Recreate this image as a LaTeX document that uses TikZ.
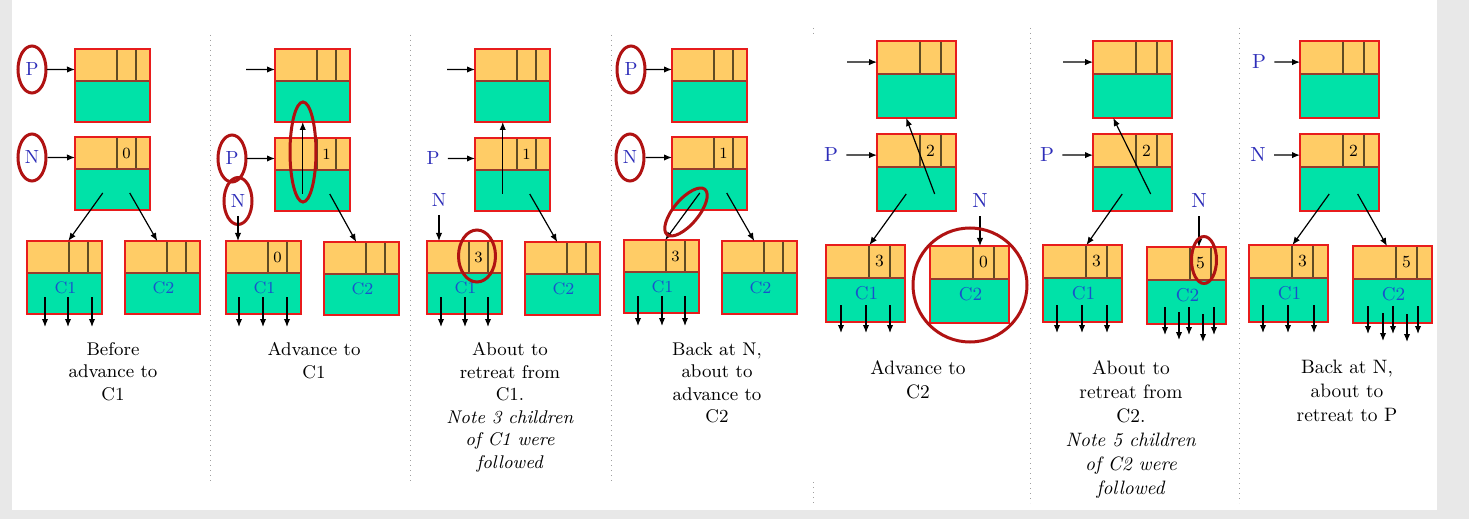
\documentclass[tikz,border=0pt]{standalone}
\usetikzlibrary{arrows.meta,shapes.geometric}

\definecolor{recorange}{RGB}{255,204,102}
\definecolor{recgreen}{RGB}{0,226,168}
\definecolor{recred}{RGB}{232,28,28}
\definecolor{partdark}{RGB}{150,60,45}
\definecolor{celldark}{RGB}{95,75,35}
\definecolor{ringred}{RGB}{176,18,18}
\definecolor{pblue}{RGB}{45,45,185}
\definecolor{cblue}{RGB}{25,80,205}
\definecolor{sepgray}{RGB}{160,160,160}
\definecolor{bggray}{RGB}{232,232,232}

\begin{document}
\begin{tikzpicture}[%
    x=0.5pt, y=-0.5pt,          % one unit is one pixel of the page, y runs down
    >={Latex[length=4pt,width=3.2pt]},
    ]
% -------------------------------------------------
% Record boxes and the other looks
\tikzset{
  rec w/.store in=\recW, rec t/.store in=\recT, rec h/.store in=\recH,
  rec a/.store in=\recA, rec b/.store in=\recB,
  rec w=75, rec t=32, rec h=73, rec a=42, rec b=61,
  cell/.style={draw=celldark, line width=0.6pt},
  rim/.style={draw=recred, line width=0.9pt},
  cnt/.style={font=\fontsize{7.8}{9}\selectfont, inner sep=0pt},
  nm/.style={font=\fontsize{8.4}{10}\selectfont, text=cblue, inner sep=0pt},
  ptr/.style={font=\fontsize{9.5}{11}\selectfont, text=pblue, inner sep=4pt},
  ring/.style={draw=ringred, line width=1.5pt, ellipse, inner sep=0pt,
    minimum width=14pt, minimum height=23.5pt},
  capt/.style={anchor=north, align=center, inner sep=0pt,
    font=\fontsize{9.2}{11.25}\selectfont},
  norm/.style={->, draw, line width=0.6pt},
  divider/.style={draw=sepgray, line width=0.5pt, dotted},
  rightpanel/.style={rec w=79, rec t=33, rec h=77, rec a=43, rec b=64,
    cnt/.append style={font=\fontsize{8.5}{10}\selectfont},
    nm/.append style={font=\fontsize{9.3}{11}\selectfont},
    ptr/.append style={font=\fontsize{10.2}{12}\selectfont},
    capt/.append style={font=\fontsize{9.7}{12}\selectfont}},
  pics/rec/.style 2 args={code={
    \fill[recorange] (0,0) rectangle (\recW,\recT);
    \fill[recgreen] (0,\recT) rectangle (\recW,\recH);
    \draw[cell] (\recA,0) -- (\recA,\recT) (\recB,0) -- (\recB,\recT);
    \draw[cell, draw=partdark, line width=0.8pt] (0,\recT) -- (\recW,\recT);
    \draw[rim] (0,0) rectangle (\recW,\recH);
    \node[cnt] (-c) at ({(\recA+\recB)/2},{\recT/2}) {#1};
    \node[nm] (-n) at ({\recW/2+1},{1.47*\recT}) {#2};
    \coordinate (-in)  at (0,{0.64*\recT});
    \coordinate (-top) at ({\recW/2},0);
    \coordinate (-ta)  at ({0.55*\recW},0);
    \coordinate (-tb)  at ({0.43*\recW},0);
    \coordinate (-sl)  at ({0.37*\recW},{\recH-17});
    \coordinate (-sr)  at ({0.73*\recW},{\recH-17});
    \coordinate (-bl)  at ({0.37*\recW},\recH);
    \coordinate (-o)   at (0,{\recH-17});
  }},
}
% -------------------------------------------------
% Page and panel rules
\useasboundingbox (0,0) rectangle (1469,519);
\fill[bggray] (0,0) rectangle (1469,519);
\fill[white] (12,0) rectangle (1437,510);
\draw[divider] (210,35) -- (210,482);
\draw[divider] (410,35) -- (410,482);
\draw[divider] (611,35) -- (611,482);
\draw[divider] (813,28) -- (813,35) (813,482) -- (813,503);
\draw[divider] (1030,28) -- (1030,503);
\draw[divider] (1239,28) -- (1239,503);

% -------------------------------------------------
% Before advance to C1
\pic (a1) at (75,49) {rec={}{}};
\pic (b1) at (75,137) {rec={0}{}};
\pic (c11) at (27,241) {rec={}{C1}};
\pic (c21) at (125,241) {rec={}{C2}};
\node[ptr] (pl1) at (32,69.5) {P};
\node[ptr] (nl1) at (32,157.5) {N};
\node[ring] (rp1) at (pl1) {};
\node[ring] (rn1) at (nl1) {};
\draw[norm] (pl1) -- (a1-in);
\draw[norm] (nl1) -- (b1-in);
\draw[norm] (b1-sl) -- (c11-ta);
\draw[norm] (b1-sr) -- (c21-tb);
\foreach \k in {18,41,65} \draw[norm] (c11-o) ++(\k,0) -- ++(0,30);
\node[capt] (t1) at (113,342) {Before\\advance to\\C1};

% -------------------------------------------------
% Advance to C1
\pic (a2) at (275,49) {rec={}{}};
\pic (b2) at (275,138) {rec={1}{}};
\pic (c12) at (226,241) {rec={0}{C1}};
\pic (c22) at (324,242) {rec={}{C2}};
\coordinate (f2) at (246,69.5);
\node[ptr] (pl2) at (232,158.5) {P};
\node[ptr] (nl2) at (238,201) {N};
\node[ring] (rp2) at (pl2) {};
\node[ring] (rn2) at (nl2) {};
\draw[norm] (f2) -- (a2-in);
\draw[norm] (pl2) -- (b2-in);
\draw[norm] (nl2) -- (nl2 |- c12-top);
\draw[norm] (b2-sl) -- (a2-bl);
\draw[norm] (b2-sr) -- (c22-tb);
\node[ring, minimum width=13pt, minimum height=50pt] (ru2) at (303,152) {};
\foreach \k in {13,37,61} \draw[norm] (c12-o) ++(\k,0) -- ++(0,30);
\node[capt] (t2) at (314,342) {Advance to\\C1};

% -------------------------------------------------
% About to retreat from C1
\pic (a3) at (475,49) {rec={}{}};
\pic (b3) at (475,138) {rec={1}{}};
\pic (c13) at (427,241) {rec={3}{C1}};
\pic (c23) at (525,242) {rec={}{C2}};
\coordinate (f3) at (447,69.5);
\node[ptr] (pl3) at (433,158.5) {P};
\node[ptr] (nl3) at (439,200) {N};
\draw[norm] (f3) -- (a3-in);
\draw[norm] (pl3) -- (b3-in);
\draw[norm] (nl3) -- (nl3 |- c13-top);
\draw[norm] (b3-sl) -- (a3-bl);
\draw[norm] (b3-sr) -- (c23-tb);
\node[ring, minimum width=18.5pt, minimum height=26pt] (rc3) at (477,256) {};
\foreach \k in {14,38,61} \draw[norm] (c13-o) ++(\k,0) -- ++(0,30);
\node[capt] (t3) at (510,342) {About to\\retreat from\\C1.\\\textit{Note 3 children}\\
  \textit{of C1 were}\\\textit{followed}};

% -------------------------------------------------
% Back at N, about to advance to C2
\pic (a4) at (672,49) {rec={}{}};
\pic (b4) at (672,137) {rec={1}{}};
\pic (c14) at (624,240) {rec={3}{C1}};
\pic (c24) at (722,241) {rec={}{C2}};
\node[ptr] (pl4) at (631,69.5) {P};
\node[ptr] (nl4) at (630,157.5) {N};
\node[ring] (rp4) at (pl4) {};
\node[ring] (rn4) at (nl4) {};
\draw[norm] (pl4) -- (a4-in);
\draw[norm] (nl4) -- (b4-in);
\draw[norm] (b4-sl) -- (c14-ta);
\draw[norm] (b4-sr) -- (c24-tb);
\node[ring, minimum width=29.5pt, minimum height=12.5pt, rotate=50] (rs4) at (686,212) {};
\foreach \k in {14,38,61} \draw[norm] (c14-o) ++(\k,0) -- ++(0,30);
\node[capt] (t4) at (717,342) {Back at N,\\about to\\advance to\\C2};

\begin{scope}[rightpanel]
% -------------------------------------------------
% Advance to C2
\pic (a5) at (877,41) {rec={}{}};
\pic (b5) at (877,134) {rec={2}{}};
\pic (c15) at (826,245) {rec={3}{C1}};
\pic (c25) at (930,246) {rec={0}{C2}};
\coordinate (f5) at (847,62);
\node[ptr] (pl5) at (831,155) {P};
\node[ptr] (nl5) at (980,201) {N};
\draw[norm] (f5) -- (a5-in);
\draw[norm] (pl5) -- (b5-in);
\draw[norm] (nl5) -- (nl5 |- c25-top);
\draw[norm] (b5-sr) -- (a5-bl);
\draw[norm] (b5-sl) -- (c15-ta);
\node[ring, circle, minimum size=57pt] (rc5) at (970,285) {};
\foreach \k in {15,40,64} \draw[norm] (c15-o) ++(\k,0) -- ++(0,28);
\node[capt] (t5) at (918,360) {Advance to\\C2};

% -------------------------------------------------
% About to retreat from C2
\pic (a6) at (1093,41) {rec={}{}};
\pic (b6) at (1093,134) {rec={2}{}};
\pic (c16) at (1043,245) {rec={3}{C1}};
\pic (c26) at (1147,247) {rec={5}{C2}};
\coordinate (f6) at (1063,62);
\node[ptr] (pl6) at (1047,155) {P};
\node[ptr] (nl6) at (1199,201) {N};
\draw[norm] (f6) -- (a6-in);
\draw[norm] (pl6) -- (b6-in);
\draw[norm] (nl6) -- (nl6 |- c26-top);
\draw[norm] (b6-sr) -- ([xshift=-4.5pt]a6-bl);
\draw[norm] (b6-sl) -- (c16-ta);
\node[ring, minimum width=12.5pt, minimum height=23.5pt] (rc6) at (1204,260) {};
\foreach \k in {14,39,64} \draw[norm] (c16-o) ++(\k,0) -- ++(0,28);
\foreach \k/\d in {18/0,32/5,42/0,56/7,67/0} \draw[norm] (c26-o) ++(\k,\d) -- ++(0,28);
\node[capt] (t6) at (1131,360) {About to\\retreat from\\C2.\\\textit{Note 5 children}\\
  \textit{of C2 were}\\\textit{followed}};

% -------------------------------------------------
% Back at N, about to retreat to P
\pic (a7) at (1300,41) {rec={}{}};
\pic (b7) at (1300,134) {rec={2}{}};
\pic (c17) at (1249,245) {rec={3}{C1}};
\pic (c27) at (1353,246) {rec={5}{C2}};
\node[ptr] (pl7) at (1259,62) {P};
\node[ptr] (nl7) at (1258,155) {N};
\draw[norm] (pl7) -- (a7-in);
\draw[norm] (nl7) -- (b7-in);
\draw[norm] (b7-sl) -- (c17-ta);
\draw[norm] (b7-sr) -- (c27-tb);
\foreach \k in {14,39,65} \draw[norm] (c17-o) ++(\k,0) -- ++(0,28);
\foreach \k/\d in {15/0,30/7,40/0,54/8,65/0} \draw[norm] (c27-o) ++(\k,\d) -- ++(0,28);
\node[capt] (t7) at (1347,360) {Back at N,\\about to\\retreat to P};
\end{scope}
% -------------------------------------------------
\end{tikzpicture}
\end{document}
